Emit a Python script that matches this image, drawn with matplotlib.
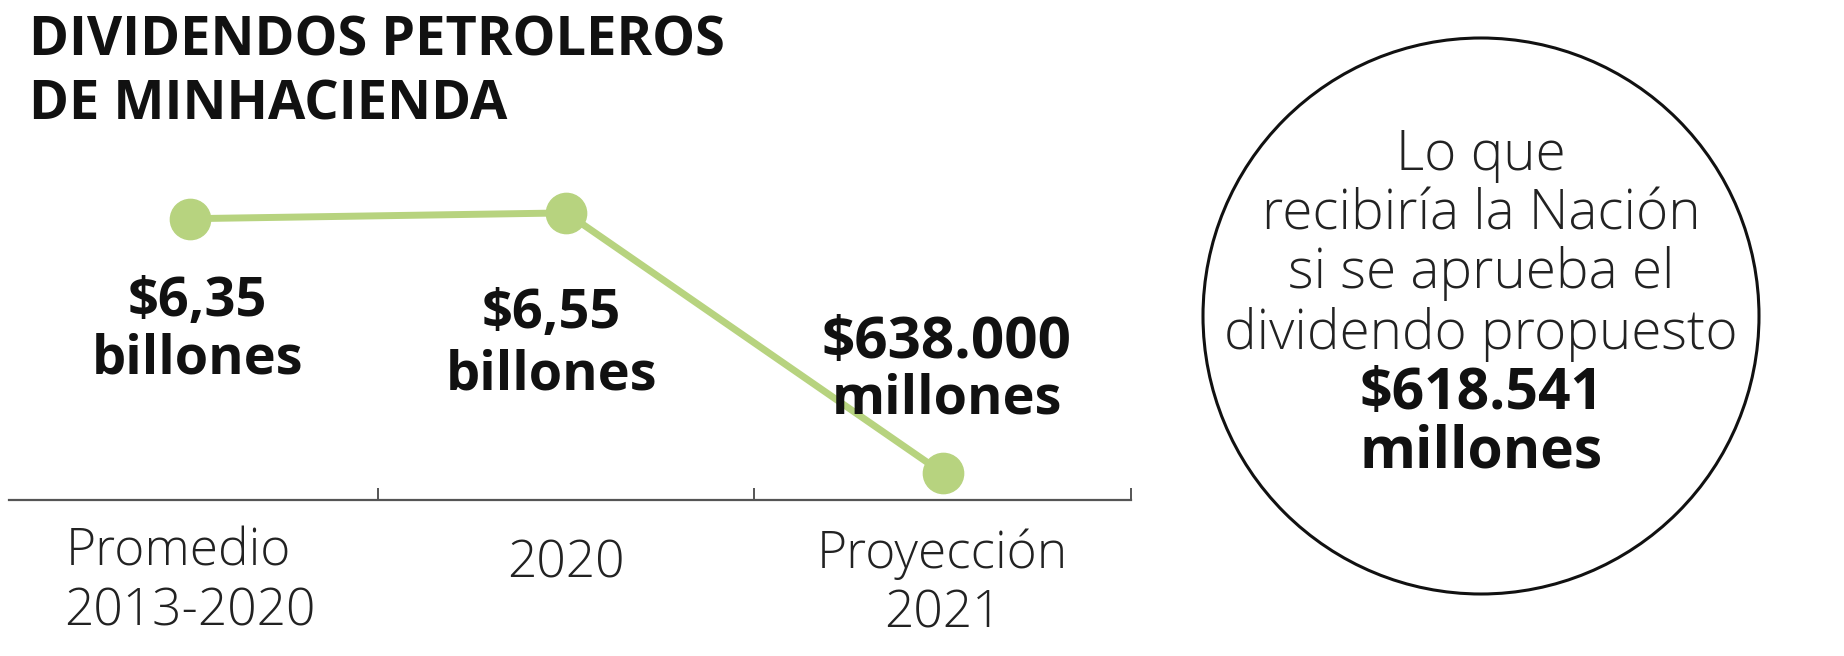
import numpy as np
import matplotlib
matplotlib.use('Agg')
import matplotlib.pyplot as plt
from matplotlib.patches import Ellipse

# data
categories = ["Promedio\n2013-2020", "2020", "Proyección\n2021"]
valores_billones = [6.35, 6.55, 0.638]
etiquetas_valor = [("$6,35", "billones"), ("$6,55", "billones"), ("$638.000", "millones")]
titulo = ["DIVIDENDOS PETROLEROS", "DE MINHACIENDA"]
circulo_texto = ["Lo que", "recibiría la Nación", "si se aprueba el", "dividendo propuesto"]
circulo_valor = ["$618.541", "millones"]

W, H = 1844, 656
FAM = ['Open Sans', 'DejaVu Sans']
VERDE = '#b7d37f'

fig = plt.figure(figsize=(W / 100, H / 100), dpi=100)
fig.patch.set_facecolor('white')

# axes: from top of figure down to the baseline line at y=500 px
ax_bottom = 500
ax = fig.add_axes([9 / W, (H - ax_bottom) / H, 1122 / W, ax_bottom / H])
ax.set_yscale('function', functions=(np.sqrt, np.square))
ax.set_ylim(0.38, 16.0)
ax.set_xlim(-0.48, 2.5)

x = np.arange(len(categories))
ax.plot(x, valores_billones, color=VERDE, lw=5, marker='o', ms=29,
        solid_capstyle='round', clip_on=False, zorder=2)

for s in ['top', 'left', 'right']:
    ax.spines[s].set_visible(False)
ax.spines['bottom'].set_color('#555555')
ax.spines['bottom'].set_linewidth(1.6)
ax.set_yticks([])
ax.set_xticks([0.5, 1.5, 2.5])
ax.set_xticklabels([])
ax.tick_params(axis='x', direction='in', length=9, width=1.4, color='#555555')
ax.set_facecolor('none')


def yfrac(ypix):
    # pixel from top of figure -> axes fraction
    return (ax_bottom - ypix) / ax_bottom


tr = ax.get_xaxis_transform()

# value labels (two lines each)
label_dx = [0.02, -0.04, 0.01]
label_base = [(316, 373), (328, 389), (358, 414)]
for i, (l1, l2) in enumerate(etiquetas_valor):
    for j, (txt, yb) in enumerate(zip((l1, l2), label_base[i])):
        fs = 39
        if j == 0 and i == 2:
            fs = 42
        ax.text(x[i] + label_dx[i], yfrac(yb), txt, transform=tr, ha='center',
                va='baseline', fontsize=fs, fontweight='bold', family=FAM,
                color='#111111', zorder=3, clip_on=False)

# category labels
cat_base = [(566, 625), (577,), (568, 627)]
cat_dx = [(-0.03, 0.0), (0.0,), (0.0, 0.0)]
for i, cat in enumerate(categories):
    for j, (txt, yb) in enumerate(zip(cat.split("\n"), cat_base[i])):
        ax.text(x[i] + cat_dx[i][j], yfrac(yb), txt, transform=tr, ha='center',
                va='baseline', fontsize=37, fontweight='light', family=FAM,
                color='#222222', clip_on=False)

# title
for txt, yb in zip(titulo, (56, 120)):
    fig.text(29 / W, 1 - yb / H, txt, ha='left', va='baseline', fontsize=39,
             fontweight='bold', family=FAM, color='#111111')

# circle
cx, cy, r = 1481, 316, 278
fig.add_artist(Ellipse((cx / W, 1 - cy / H), 2 * r / W, 2 * r / H,
                       transform=fig.transFigure, fill=False, lw=2.2,
                       ec='#111111'))
for txt, yb in zip(circulo_texto, (170, 229, 288, 349)):
    fig.text(cx / W, 1 - yb / H, txt, ha='center', va='baseline', fontsize=39.5,
             fontweight='light', family=FAM, color='#222222')
for txt, yb in zip(circulo_valor, (409, 468)):
    fig.text(cx / W, 1 - yb / H, txt, ha='center', va='baseline', fontsize=41,
             fontweight='bold', family=FAM, color='#111111')

fig.savefig('out.png', dpi=100, facecolor='white')
